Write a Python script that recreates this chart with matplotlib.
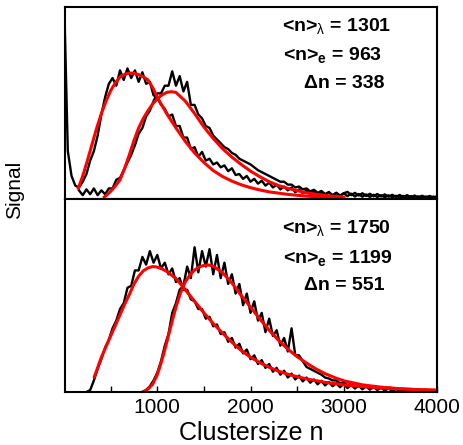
import numpy as np
import matplotlib
matplotlib.use("Agg")
import matplotlib.pyplot as plt

plt.rcParams["font.family"] = ["Liberation Sans", "DejaVu Sans"]
plt.rcParams["mathtext.fontset"] = "custom"
plt.rcParams["mathtext.rm"] = "Liberation Sans"
plt.rcParams["mathtext.it"] = "Liberation Sans:italic"
plt.rcParams["mathtext.bf"] = "Liberation Sans:bold"

STEP = 40

# --- upper panel: measured spectra (sampled every 40 clusters) ---
top_meas1_start = 0
top_meas1 = [
    1.05, 0.25, 0.12, 0.07, 0.06, 0.09, 0.13, 0.20, 0.25, 0.33,
    0.44, 0.53, 0.60, 0.63, 0.59, 0.67, 0.62, 0.68, 0.63, 0.67,
    0.61, 0.66, 0.60, 0.61, 0.54, 0.53, 0.49, 0.47, 0.43, 0.44,
    0.38, 0.38, 0.32, 0.32, 0.26, 0.27, 0.22, 0.245, 0.20, 0.21,
    0.18, 0.19, 0.165, 0.175, 0.145, 0.16, 0.125, 0.13, 0.105, 0.12,
    0.09, 0.105, 0.08, 0.095, 0.07, 0.085, 0.06, 0.075, 0.05, 0.065,
    0.045, 0.06, 0.035, 0.05, 0.03, 0.045, 0.025, 0.04, 0.022, 0.036,
    0.02, 0.034, 0.018, 0.032, 0.016, 0.03, 0.037, 0.02, 0.032, 0.018,
    0.03, 0.016, 0.027, 0.014, 0.026, 0.013, 0.024, 0.012, 0.022, 0.011,
    0.021, 0.01, 0.02, 0.009, 0.018, 0.008, 0.017, 0.008, 0.016, 0.008,
    0.014,
]
top_meas2_start = 160
top_meas2 = [
    0.045, 0.02, 0.05, 0.025, 0.055, 0.02, 0.045, 0.025, 0.055, 0.055,
    0.1, 0.11, 0.15, 0.19, 0.23, 0.28, 0.34, 0.37, 0.43, 0.46,
    0.51, 0.55, 0.55, 0.59, 0.59, 0.665, 0.59, 0.64, 0.56, 0.61,
    0.49, 0.49, 0.44, 0.42, 0.38, 0.37, 0.33, 0.31, 0.29, 0.27,
    0.26, 0.24, 0.23, 0.21, 0.2, 0.19, 0.18, 0.165, 0.15, 0.14,
    0.13, 0.12, 0.11, 0.1, 0.09, 0.09, 0.075, 0.075, 0.06, 0.065,
    0.05, 0.055, 0.04, 0.048, 0.032, 0.042, 0.026, 0.036, 0.02, 0.032,
    0.018, 0.03, 0.015, 0.028, 0.013, 0.026, 0.012, 0.024, 0.011, 0.022,
    0.01, 0.02, 0.009, 0.019, 0.009, 0.017, 0.008, 0.016, 0.007, 0.015,
    0.007, 0.014, 0.006, 0.013, 0.006, 0.012,
]

# upper panel: log-normal fits
top_fit1_n = [153, 200, 250, 300, 350, 400, 450, 500, 550, 600, 650, 700,
              750, 800, 850, 900, 950, 1000, 1100, 1200, 1300, 1400, 1500,
              1600, 1700, 1800, 1900, 2000, 2100, 2200, 2400, 2600, 2800, 3000]
top_fit1 = [0.056, 0.12, 0.2, 0.285, 0.37, 0.445, 0.51, 0.565, 0.605, 0.635,
            0.65, 0.656, 0.655, 0.648, 0.636, 0.62, 0.58, 0.53, 0.445, 0.37,
            0.3, 0.24, 0.19, 0.148, 0.117, 0.093, 0.074, 0.059, 0.047, 0.037,
            0.024, 0.015, 0.009, 0.006]
top_fit2_n = [432, 500, 550, 600, 650, 700, 750, 800, 850, 900, 950, 1000,
              1050, 1100, 1150, 1200, 1300, 1400, 1500, 1600, 1700, 1800,
              1900, 2000, 2100, 2200, 2300, 2400, 2600, 2800, 3000]
top_fit2 = [0.01, 0.04, 0.068, 0.1, 0.16, 0.23, 0.305, 0.37, 0.42, 0.46,
            0.495, 0.522, 0.542, 0.555, 0.559, 0.555, 0.51, 0.445, 0.375,
            0.315, 0.262, 0.218, 0.18, 0.145, 0.116, 0.09, 0.07, 0.055,
            0.032, 0.018, 0.01]

# --- lower panel: measured spectra ---
bot_meas1_start = 240
bot_meas1 = [
    0.0, 0.01, 0.06, 0.12, 0.17, 0.23, 0.27, 0.33, 0.37, 0.43,
    0.46, 0.54, 0.55, 0.63, 0.63, 0.70, 0.66, 0.73, 0.67, 0.71,
    0.64, 0.67, 0.61, 0.64, 0.57, 0.59, 0.53, 0.53, 0.48, 0.47,
    0.43, 0.43, 0.38, 0.39, 0.34, 0.35, 0.30, 0.31, 0.26, 0.28,
    0.23, 0.25, 0.2, 0.22, 0.17, 0.19, 0.145, 0.165, 0.125, 0.145,
    0.105, 0.125, 0.09, 0.11, 0.075, 0.095, 0.065, 0.085, 0.055, 0.075,
    0.048, 0.065, 0.04, 0.058, 0.034, 0.052, 0.03, 0.046, 0.025, 0.042,
    0.02, 0.038, 0.018, 0.033, 0.014, 0.03, 0.012, 0.026, 0.01, 0.022,
    0.008, 0.018, 0.007, 0.015, 0.006, 0.013, 0.005, 0.012, 0.004, 0.011,
    0.004, 0.01, 0.003, 0.009, 0.003,
]
bot_meas2_start = 840
bot_meas2 = [
    0.0, 0.01, 0.03, 0.06, 0.10, 0.16, 0.24, 0.30, 0.41, 0.46,
    0.53, 0.55, 0.65, 0.59, 0.75, 0.62, 0.73, 0.65, 0.74, 0.61,
    0.71, 0.59, 0.67, 0.56, 0.61, 0.51, 0.56, 0.45, 0.51, 0.41,
    0.47, 0.37, 0.41, 0.31, 0.38, 0.29, 0.32, 0.24, 0.28, 0.21,
    0.33, 0.19, 0.19, 0.16, 0.13, 0.12, 0.11, 0.10, 0.09, 0.075,
    0.07, 0.06, 0.06, 0.045, 0.05, 0.035, 0.045, 0.028, 0.04, 0.022,
    0.035, 0.018, 0.03, 0.014, 0.026, 0.012, 0.022, 0.01, 0.019, 0.008,
    0.016, 0.007, 0.014, 0.006, 0.013, 0.005, 0.012, 0.004, 0.011, 0.004,
]

# lower panel: log-normal fits
bot_fit1_n = [325, 400, 450, 500, 550, 600, 650, 700, 750, 800, 850, 900,
              950, 1000, 1050, 1100, 1200, 1300, 1400, 1500, 1600, 1700, 1800,
              1900, 2000, 2100, 2200, 2300, 2400, 2500, 2600, 2800, 3000,
              3200, 3400, 3600, 3800, 4000]
bot_fit1 = [0.079, 0.18, 0.235, 0.29, 0.345, 0.4, 0.455, 0.505, 0.56, 0.6,
            0.628, 0.643, 0.65, 0.647, 0.638, 0.625, 0.588, 0.53, 0.47, 0.41,
            0.355, 0.305, 0.258, 0.215, 0.18, 0.152, 0.128, 0.108, 0.092,
            0.079, 0.068, 0.05, 0.037, 0.028, 0.021, 0.016, 0.012, 0.009]
bot_fit2_n = [843, 900, 950, 1000, 1050, 1100, 1150, 1200, 1250, 1300, 1350,
              1400, 1450, 1500, 1550, 1600, 1700, 1800, 1900, 2000, 2100,
              2200, 2300, 2400, 2500, 2600, 2700, 2800, 2900, 3000, 3200,
              3400, 3600, 3800, 4000]
bot_fit2 = [0.0, 0.015, 0.04, 0.09, 0.165, 0.255, 0.35, 0.44, 0.515, 0.57,
            0.607, 0.632, 0.648, 0.656, 0.658, 0.652, 0.618, 0.565, 0.5,
            0.44, 0.378, 0.32, 0.268, 0.222, 0.183, 0.15, 0.12, 0.095,
            0.075, 0.058, 0.037, 0.025, 0.017, 0.012, 0.009]

top_labels = [r"<n>$_\mathrm{\lambda}$ = 1301", r"<n>$_\mathbf{e}$ = 963", "\u0394n = 338"]
bot_labels = [r"<n>$_\mathrm{\lambda}$ = 1750", r"<n>$_\mathbf{e}$ = 1199", "\u0394n = 551"]

tick_pos = [500, 1000, 1500, 2000, 2500, 3000, 3500, 4000]
tick_lbl = ["", "1000", "", "2000", "", "3000", "", "4000"]


def grid(start, values):
    return start + STEP * np.arange(len(values))


fig = plt.figure(figsize=(4.64, 4.45), dpi=100)
ax_top = fig.add_axes([0.1401, 0.5528, 0.8017, 0.4315])
ax_bot = fig.add_axes([0.1401, 0.1191, 0.8017, 0.4337])

ax_top.plot(grid(top_meas1_start, top_meas1), top_meas1, color="black", lw=1.7)
ax_top.plot(grid(top_meas2_start, top_meas2), top_meas2, color="black", lw=1.7)
ax_top.plot(top_fit1_n, top_fit1, color="red", lw=2.2)
ax_top.plot(top_fit2_n, top_fit2, color="red", lw=2.2)

ax_bot.plot(grid(bot_meas1_start, bot_meas1), bot_meas1, color="black", lw=1.7)
ax_bot.plot(grid(bot_meas2_start, bot_meas2), bot_meas2, color="black", lw=1.7)
ax_bot.plot(bot_fit1_n, bot_fit1, color="red", lw=2.2)
ax_bot.plot(bot_fit2_n, bot_fit2, color="red", lw=2.2)

for ax in (ax_top, ax_bot):
    ax.set_xlim(10, 4000)
    ax.set_ylim(0, 1)
    ax.set_yticks([])
    for s in ax.spines.values():
        s.set_linewidth(1.5)

ax_top.set_xticks([])
ax_bot.set_xticks(tick_pos)
ax_bot.set_xticklabels(tick_lbl, fontsize=15)
ax_bot.tick_params(axis="x", direction="in", length=4, width=1, pad=4)

text_x = [0.583, 0.586, 0.642]
for lbl, x, y in zip(top_labels, text_x, [0.877, 0.724, 0.577]):
    ax_top.text(x, y, lbl, transform=ax_top.transAxes, fontsize=14,
                fontweight="bold", va="baseline", ha="left")
for lbl, x, y in zip(bot_labels, text_x, [0.822, 0.670, 0.528]):
    ax_bot.text(x, y, lbl, transform=ax_bot.transAxes, fontsize=14,
                fontweight="bold", va="baseline", ha="left")

fig.text(15 / 464, 1 - 190 / 445, "Signal", rotation=90, fontsize=15,
         ha="center", va="center")
fig.text(251 / 464, 1 - 440 / 445, "Clustersize n", fontsize=18,
         ha="center", va="baseline")

fig.savefig("out.png", dpi=100)
